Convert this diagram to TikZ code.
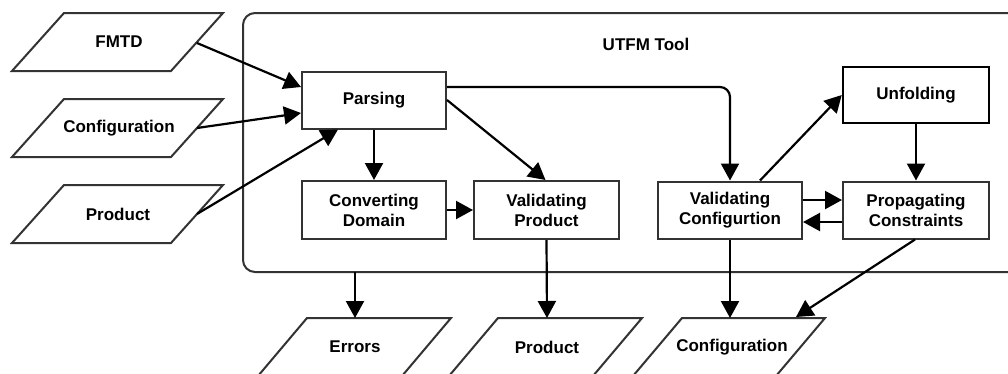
\documentclass[tikz,border=0pt]{standalone}
\usepackage{fontspec}
\setmainfont{Liberation Sans}
\usetikzlibrary{arrows.meta,calc}
\definecolor{edge}{HTML}{333333}
\begin{document}
\begin{tikzpicture}[x=1pt,y=-1pt,
  every node/.style={font=\fontsize{17}{20}\selectfont\bfseries, align=center, inner sep=0pt},
  box/.style={draw=edge, line width=2pt, minimum width=144pt, minimum height=57pt, fill=white},
  iobox/.style={draw=edge, line width=2pt, line join=miter, fill=white},
  flow/.style={line width=2.2pt, -{Triangle[length=17pt,width=18pt]}},
]
\useasboundingbox (0,0) rectangle (1008,373);

% tool frame
\draw[draw=edge, line width=2pt, rounded corners=12pt] (243,13) rectangle (1040,272);
\node (tool) at (646,44) {UTFM Tool};

% inputs
\draw[iobox] (12,71) -- (64,13) -- (223,13) -- (171,71) -- cycle;
\draw[iobox] (12,157) -- (64,99) -- (223,99) -- (171,157) -- cycle;
\draw[iobox] (12,243) -- (64,185) -- (223,185) -- (171,243) -- cycle;
\node (fmtd) at (119,42) {FMTD};
\node (incfg) at (119,128) {Configuration};
\node (inprod) at (118,214) {Product};
\coordinate (fmtd-r) at (197,43);
\coordinate (incfg-r) at (197,128);
\coordinate (inprod-r) at (197,214);

% outputs
\draw[iobox] (258,376) -- (307,318) -- (451,318) -- (402,376);
\draw[iobox] (449,376) -- (498,318) -- (642,318) -- (593,376);
\draw[iobox] (633,376) -- (682,318) -- (825,318) -- (776,376);
\node (errors) at (355,347) {Errors};
\node (outprod) at (547,347) {Product};
\node (outcfg) at (732,347) {Configuration};
\coordinate (errors-t) at (355,318);
\coordinate (outprod-t) at (547,318);
\coordinate (outcfg-t) at (730,318);
\coordinate (outcfg-tr) at (796,317);
\coordinate (frame-b) at (355,272);

% processing steps
\node[box] (parsing) at (374,100) {Parsing};
\node[box, minimum height=58pt] (convert) at (374,210) {Converting\\Domain};
\node[box, minimum height=58pt, minimum width=145pt] (valprod) at (546.5,210) {Validating\\Product};
\node[box] (valcfg) at (730,210) {Validating\\Configurtion};
\node[box, minimum width=146pt] (propag) at (916,210) {Propagating\\Constraints};
\node[box, draw=black, line width=2.5pt, minimum width=146pt, minimum height=56pt] (unfold) at (916,95) {Unfolding};

% connectors
\draw[flow] (fmtd-r) -- ([yshift=13pt]parsing.west);
\draw[flow] (incfg-r) -- ([yshift=-13pt]parsing.west);
\draw[flow] (inprod-r) -- ([xshift=-36pt]parsing.south);
\draw[flow, rounded corners=10pt] ([yshift=13pt]parsing.east) -| (valcfg.north);
\draw[flow] (parsing.east) -- ([xshift=-1pt]valprod.north);
\draw[flow] (parsing.south) -- (convert.north);
\draw[flow] (convert.east) -- (valprod.west);
\draw[flow] ([xshift=30pt]valcfg.north) -- (unfold.west);
\draw[flow] (unfold.south) -- (propag.north);
\draw[flow] ([yshift=10pt]valcfg.east) -- ([yshift=10pt]propag.west);
\draw[flow] ([yshift=-12pt]propag.west) -- ([yshift=-12pt]valcfg.east);
\draw[flow] (valprod.south) -- (outprod-t);
\draw[flow] (valcfg.south) -- (outcfg-t);
\draw[flow] ([xshift=-1pt]propag.south) -- (outcfg-tr);
\draw[flow] (frame-b) -- (errors-t);
\end{tikzpicture}
\end{document}
